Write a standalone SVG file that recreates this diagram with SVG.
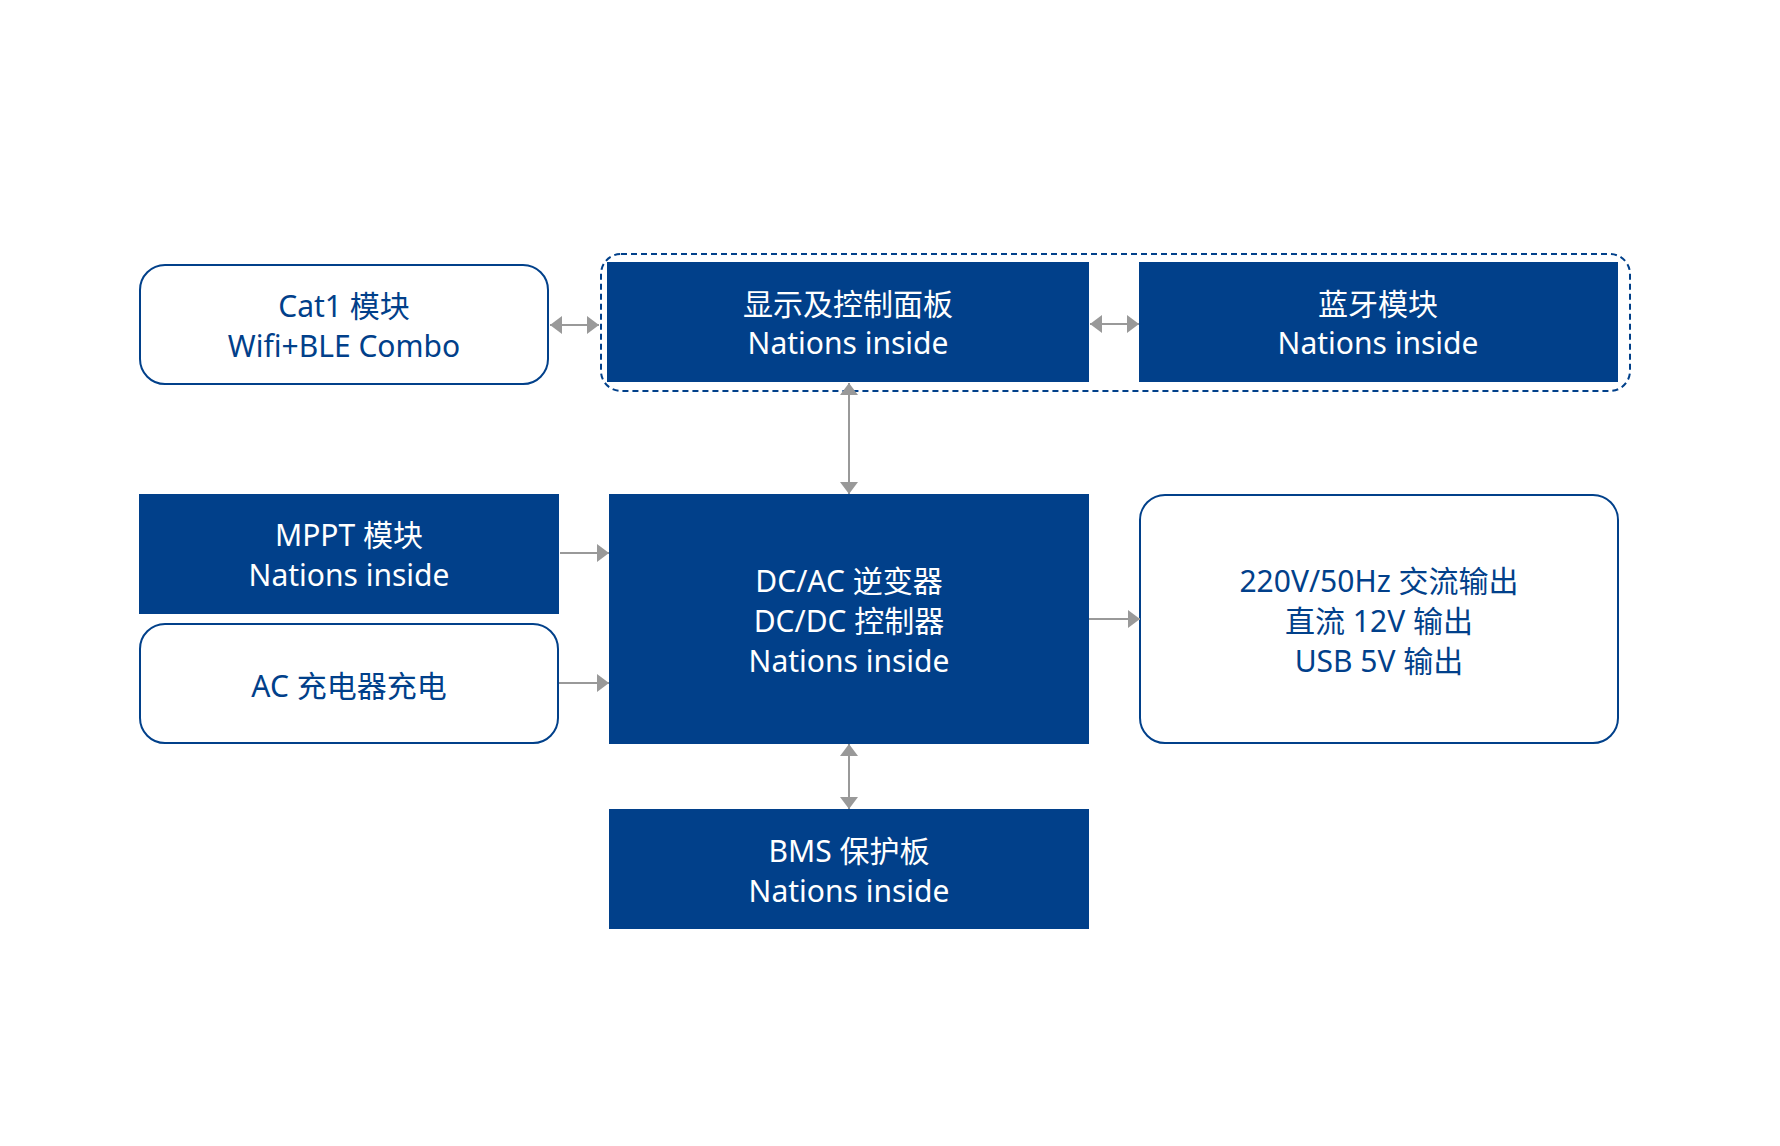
<svg xmlns="http://www.w3.org/2000/svg" width="1780" height="1146" viewBox="0 0 1780 1146">
<style>
.solid{fill:#01408a}
.outline{fill:#ffffff;stroke:#01408a;stroke-width:2}
.w{fill:#ffffff;font-family:"Noto Sans","Noto Sans CJK SC",sans-serif;font-size:30px;text-anchor:middle}
.b{fill:#01408a;font-family:"Noto Sans","Noto Sans CJK SC",sans-serif;font-size:30px;text-anchor:middle}
.c{stroke:#999999;stroke-width:2;fill:none}
</style>
<defs>
<marker id="ah" viewBox="0 0 12 18" refX="12" refY="9" markerWidth="12" markerHeight="18" markerUnits="userSpaceOnUse" orient="auto-start-reverse">
<path d="M0,0 L12,9 L0,18 Z" fill="#999999"/>
</marker>
</defs>
<rect width="1780" height="1146" fill="#ffffff"/>
<g id="group-dashed">
<rect x="601" y="254" width="1029" height="137" rx="20" fill="none" stroke="#01408a" stroke-width="2" stroke-dasharray="6 4"/>
</g>
<g id="cat1">
<rect class="outline" x="140" y="265" width="408" height="119" rx="25"/>
<text class="b" x="344" y="317">Cat1 模块</text>
<text class="b" x="344" y="357">Wifi+BLE Combo</text>
</g>
<g id="panel">
<rect class="solid" x="607" y="262" width="482" height="120"/>
<text class="w" x="848" y="315">显示及控制面板</text>
<text class="w" x="848" y="354">Nations inside</text>
</g>
<g id="bluetooth">
<rect class="solid" x="1139" y="262" width="479" height="120"/>
<text class="w" x="1378" y="315">蓝牙模块</text>
<text class="w" x="1378" y="354">Nations inside</text>
</g>
<g id="mppt">
<rect class="solid" x="139" y="494" width="420" height="120"/>
<text class="w" x="349" y="546">MPPT 模块</text>
<text class="w" x="349" y="586">Nations inside</text>
</g>
<g id="ac">
<rect class="outline" x="140" y="624" width="418" height="119" rx="25"/>
<text class="b" x="349" y="697">AC 充电器充电</text>
</g>
<g id="main">
<rect class="solid" x="609" y="494" width="480" height="250"/>
<text class="w" x="849" y="592">DC/AC 逆变器</text>
<text class="w" x="849" y="632">DC/DC 控制器</text>
<text class="w" x="849" y="672">Nations inside</text>
</g>
<g id="output">
<rect class="outline" x="1140" y="495" width="478" height="248" rx="25"/>
<text class="b" x="1379" y="592">220V/50Hz 交流输出</text>
<text class="b" x="1379" y="632">直流 12V 输出</text>
<text class="b" x="1379" y="672">USB 5V 输出</text>
</g>
<g id="bms">
<rect class="solid" x="609" y="809" width="480" height="120"/>
<text class="w" x="849" y="862">BMS 保护板</text>
<text class="w" x="849" y="902">Nations inside</text>
</g>
<g id="connectors">
<line class="c" x1="550" y1="325" x2="599" y2="325" marker-start="url(#ah)" marker-end="url(#ah)"/>
<line class="c" x1="1090" y1="324" x2="1139" y2="324" marker-start="url(#ah)" marker-end="url(#ah)"/>
<line class="c" x1="849" y1="383" x2="849" y2="494" marker-start="url(#ah)" marker-end="url(#ah)"/>
<line class="c" x1="560" y1="553" x2="609" y2="553" marker-end="url(#ah)"/>
<line class="c" x1="559" y1="683" x2="609" y2="683" marker-end="url(#ah)"/>
<line class="c" x1="1089" y1="619" x2="1140" y2="619" marker-end="url(#ah)"/>
<line class="c" x1="849" y1="744" x2="849" y2="809" marker-start="url(#ah)" marker-end="url(#ah)"/>
</g>
</svg>
